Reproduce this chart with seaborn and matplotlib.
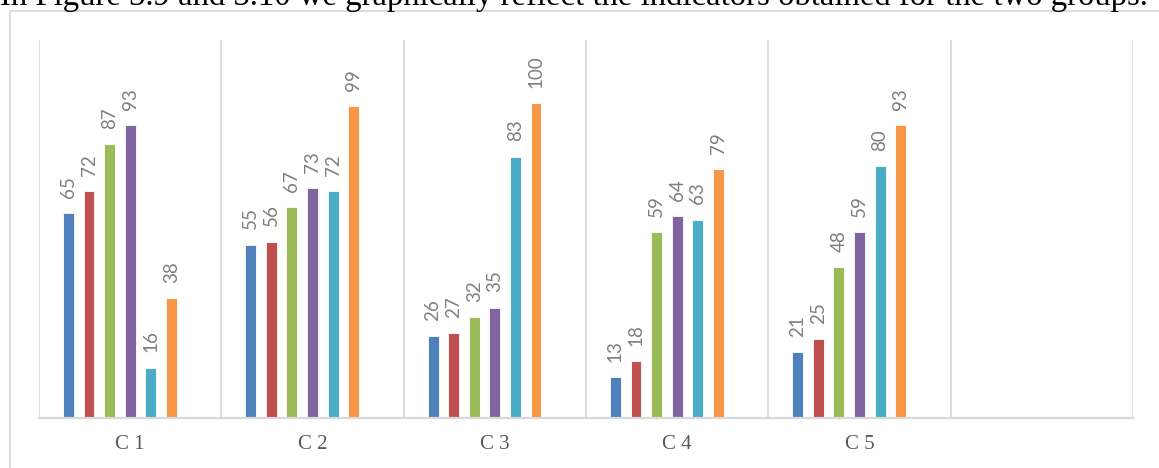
import numpy as np
import pandas as pd
import matplotlib
matplotlib.use('Agg')
import matplotlib.pyplot as plt
from matplotlib.lines import Line2D
import seaborn as sns

# --- data ---
CATEGORIES = ['C 1', 'C 2', 'C 3', 'C 4', 'C 5', '']
SERIES = ['S1', 'S2', 'S3', 'S4', 'S5', 'S6', 'S7']
S1 = [65, 55, 26, 13, 21]
S2 = [72, 56, 27, 18, 25]
S3 = [87, 67, 32, 59, 48]
S4 = [93, 73, 35, 64, 59]
S5 = [16, 72, 83, 63, 80]
S6 = [38, 99, 100, 79, 93]
S7 = [np.nan] * 5   # empty slot in every group
COLORS = ['#4F81BD', '#C0504D', '#9BBB59', '#8064A2', '#4BACC6', '#F79646', '#FFFFFF']
CAPTION = 'In Figure 3.9 and 3.10 we graphically reflect the indicators obtained for the two groups.'

rows = []
for name, vals in zip(SERIES, [S1, S2, S3, S4, S5, S6, S7]):
    for cat, v in zip(CATEGORIES[:5], vals):
        rows.append({'cat': cat, 'series': name, 'value': v})
df = pd.DataFrame(rows)

sns.set_style('white')
W, H = 1159, 468
fig = plt.figure(figsize=(W / 100, H / 100), dpi=100)
ax = fig.add_axes([39 / W, 1 - 418 / H, (1133 - 39) / W, (418 - 40) / H])

sns.barplot(data=df, x='cat', y='value', hue='series', order=CATEGORIES,
            hue_order=SERIES, palette=COLORS, saturation=1, errorbar=None,
            width=0.79, gap=0.47, linewidth=0.6, edgecolor='#ffffff',
            legend=False, ax=ax)

for c in ax.containers:
    vals = c.datavalues
    labels = ['' if np.isnan(v) else f'{v:.0f}' for v in vals]
    ax.bar_label(c, labels=labels, rotation=90, padding=11, fontsize=13.5,
                 color='#7f7f7f', family='Lato')

ax.set_ylim(0, 120)
ax.set_xlim(-0.5, len(CATEGORIES) - 0.5)
ax.set_yticks([])
ax.set_xlabel('')
ax.set_ylabel('')
ax.set_xticks(range(len(CATEGORIES)))
ax.set_xticklabels(CATEGORIES, family='Liberation Serif', fontsize=15, color='#595959')
ax.set_xticks(np.arange(-0.5, len(CATEGORIES), 1), minor=True)
ax.tick_params(axis='x', which='both', length=0, pad=12)
ax.grid(False)
ax.grid(True, axis='x', which='minor', color='#D9D9D9', linewidth=1.3)
for side in ['top', 'left', 'right']:
    ax.spines[side].set_visible(False)
ax.spines['bottom'].set_color('#D9D9D9')
ax.spines['bottom'].set_linewidth(1.6)

# document frame and caption line above the chart
fig.add_artist(Line2D([10 / W, 1], [1 - 11 / H, 1 - 11 / H], color='#D9D9D9', lw=1.3))
fig.add_artist(Line2D([10 / W, 10 / W], [0, 1 - 11 / H], color='#D9D9D9', lw=1.3))
fig.text(0.0, 1 - 5 / H, CAPTION, family='Liberation Serif', fontsize=23.6,
         color='black', va='baseline', ha='left')

fig.savefig('out.png', dpi=100)
